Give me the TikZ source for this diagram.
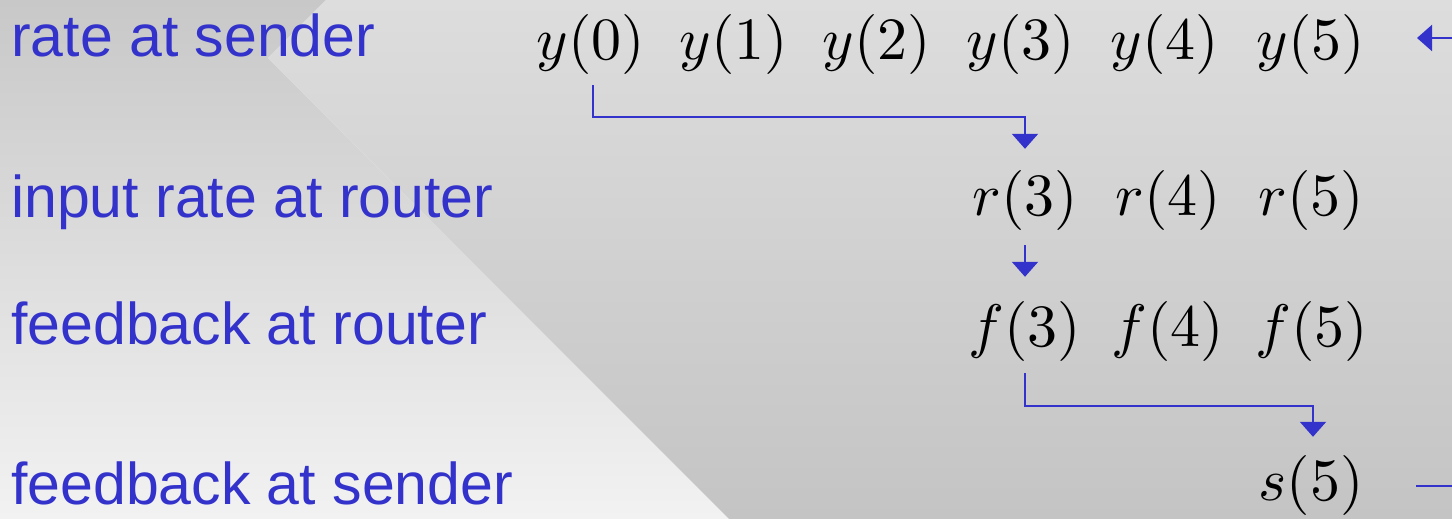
\documentclass[tikz,border=0pt]{standalone}
\usepackage{graphicx}
\usepackage{fontspec}
\newfontfamily\labelfont{Liberation Sans}
\usetikzlibrary{arrows.meta}
\definecolor{lblue}{RGB}{51,51,204}
\definecolor{bgLT}{RGB}{200,200,200}
\definecolor{bgLB}{RGB}{242,242,242}
\definecolor{bgRT}{RGB}{221,221,221}
\definecolor{bgRB}{RGB}{196,196,196}
\newcommand{\bigterm}[1]{\scalebox{6}{$#1$}}
\begin{document}
\begin{tikzpicture}[x=1pt,y=-1pt,
  lbl/.style={anchor=base west, inner sep=0pt, text=lblue, font=\labelfont\fontsize{59}{70}\selectfont},
  term/.style={anchor=base, inner sep=0pt, font=\fontsize{10}{12}\selectfont},
  conn/.style={draw=lblue, line width=2.2pt, -{Triangle[width=26pt,length=15pt]}},
  plainconn/.style={draw=lblue, line width=2.2pt}]
\useasboundingbox (0,0) rectangle (1452,519);
% background
\shade[top color=bgLT, bottom color=bgLB] (0,0) -- (326,0) -- (268,58) -- (729,519) -- (0,519) -- cycle;
\shade[top color=bgRT, bottom color=bgRB] (326,0) -- (1452,0) -- (1452,519) -- (729,519) -- (268,58) -- cycle;
% labels
\node[lbl] (l1) at (11,57) {rate at sender};
\node[lbl] (l2) at (11,217) {input rate at router};
\node[lbl] (l3) at (11,344) {feedback at router};
\node[lbl] (l4) at (11,504) {feedback at sender};
% row 1
\node[term] (y0) at (591,60) {\bigterm{y(0)}};
\node[term] (y1) at (734,60) {\bigterm{y(1)}};
\node[term] (y2) at (877,60) {\bigterm{y(2)}};
\node[term] (y3) at (1021,60) {\bigterm{y(3)}};
\node[term] (y4) at (1165,60) {\bigterm{y(4)}};
\node[term] (y5) at (1311,60) {\bigterm{y(5)}};
% row 2
\node[term] (r3) at (1025,215) {\bigterm{r(3)}};
\node[term] (r4) at (1168,215) {\bigterm{r(4)}};
\node[term] (r5) at (1311,215) {\bigterm{r(5)}};
% row 3
\node[term] (f3) at (1025,346) {\bigterm{f(3)}};
\node[term] (f4) at (1168,346) {\bigterm{f(4)}};
\node[term] (f5) at (1312,346) {\bigterm{f(5)}};
% row 4
\node[term] (s5) at (1311,500) {\bigterm{s(5)}};
% connectors
\draw[conn] ([xshift=2pt,yshift=-10pt]y0.south) -- ++(0,32) -| ([yshift=21pt]r3.north);
\draw[conn] ([yshift=-15pt]r3.south) -- ([yshift=24pt]f3.north);
\draw[conn] ([yshift=-12pt]f3.south) -- ++(0,33) -| ([xshift=2pt,yshift=18pt]s5.north);
\coordinate (fbin) at (1452,38);
\coordinate (fbtip) at (1417,38);
\draw[conn] (fbin) -- (fbtip);
\coordinate (fbstart) at (1416,486);
\coordinate (fbend) at (1452,486);
\draw[plainconn] (fbstart) -- (fbend);
\end{tikzpicture}
\end{document}
